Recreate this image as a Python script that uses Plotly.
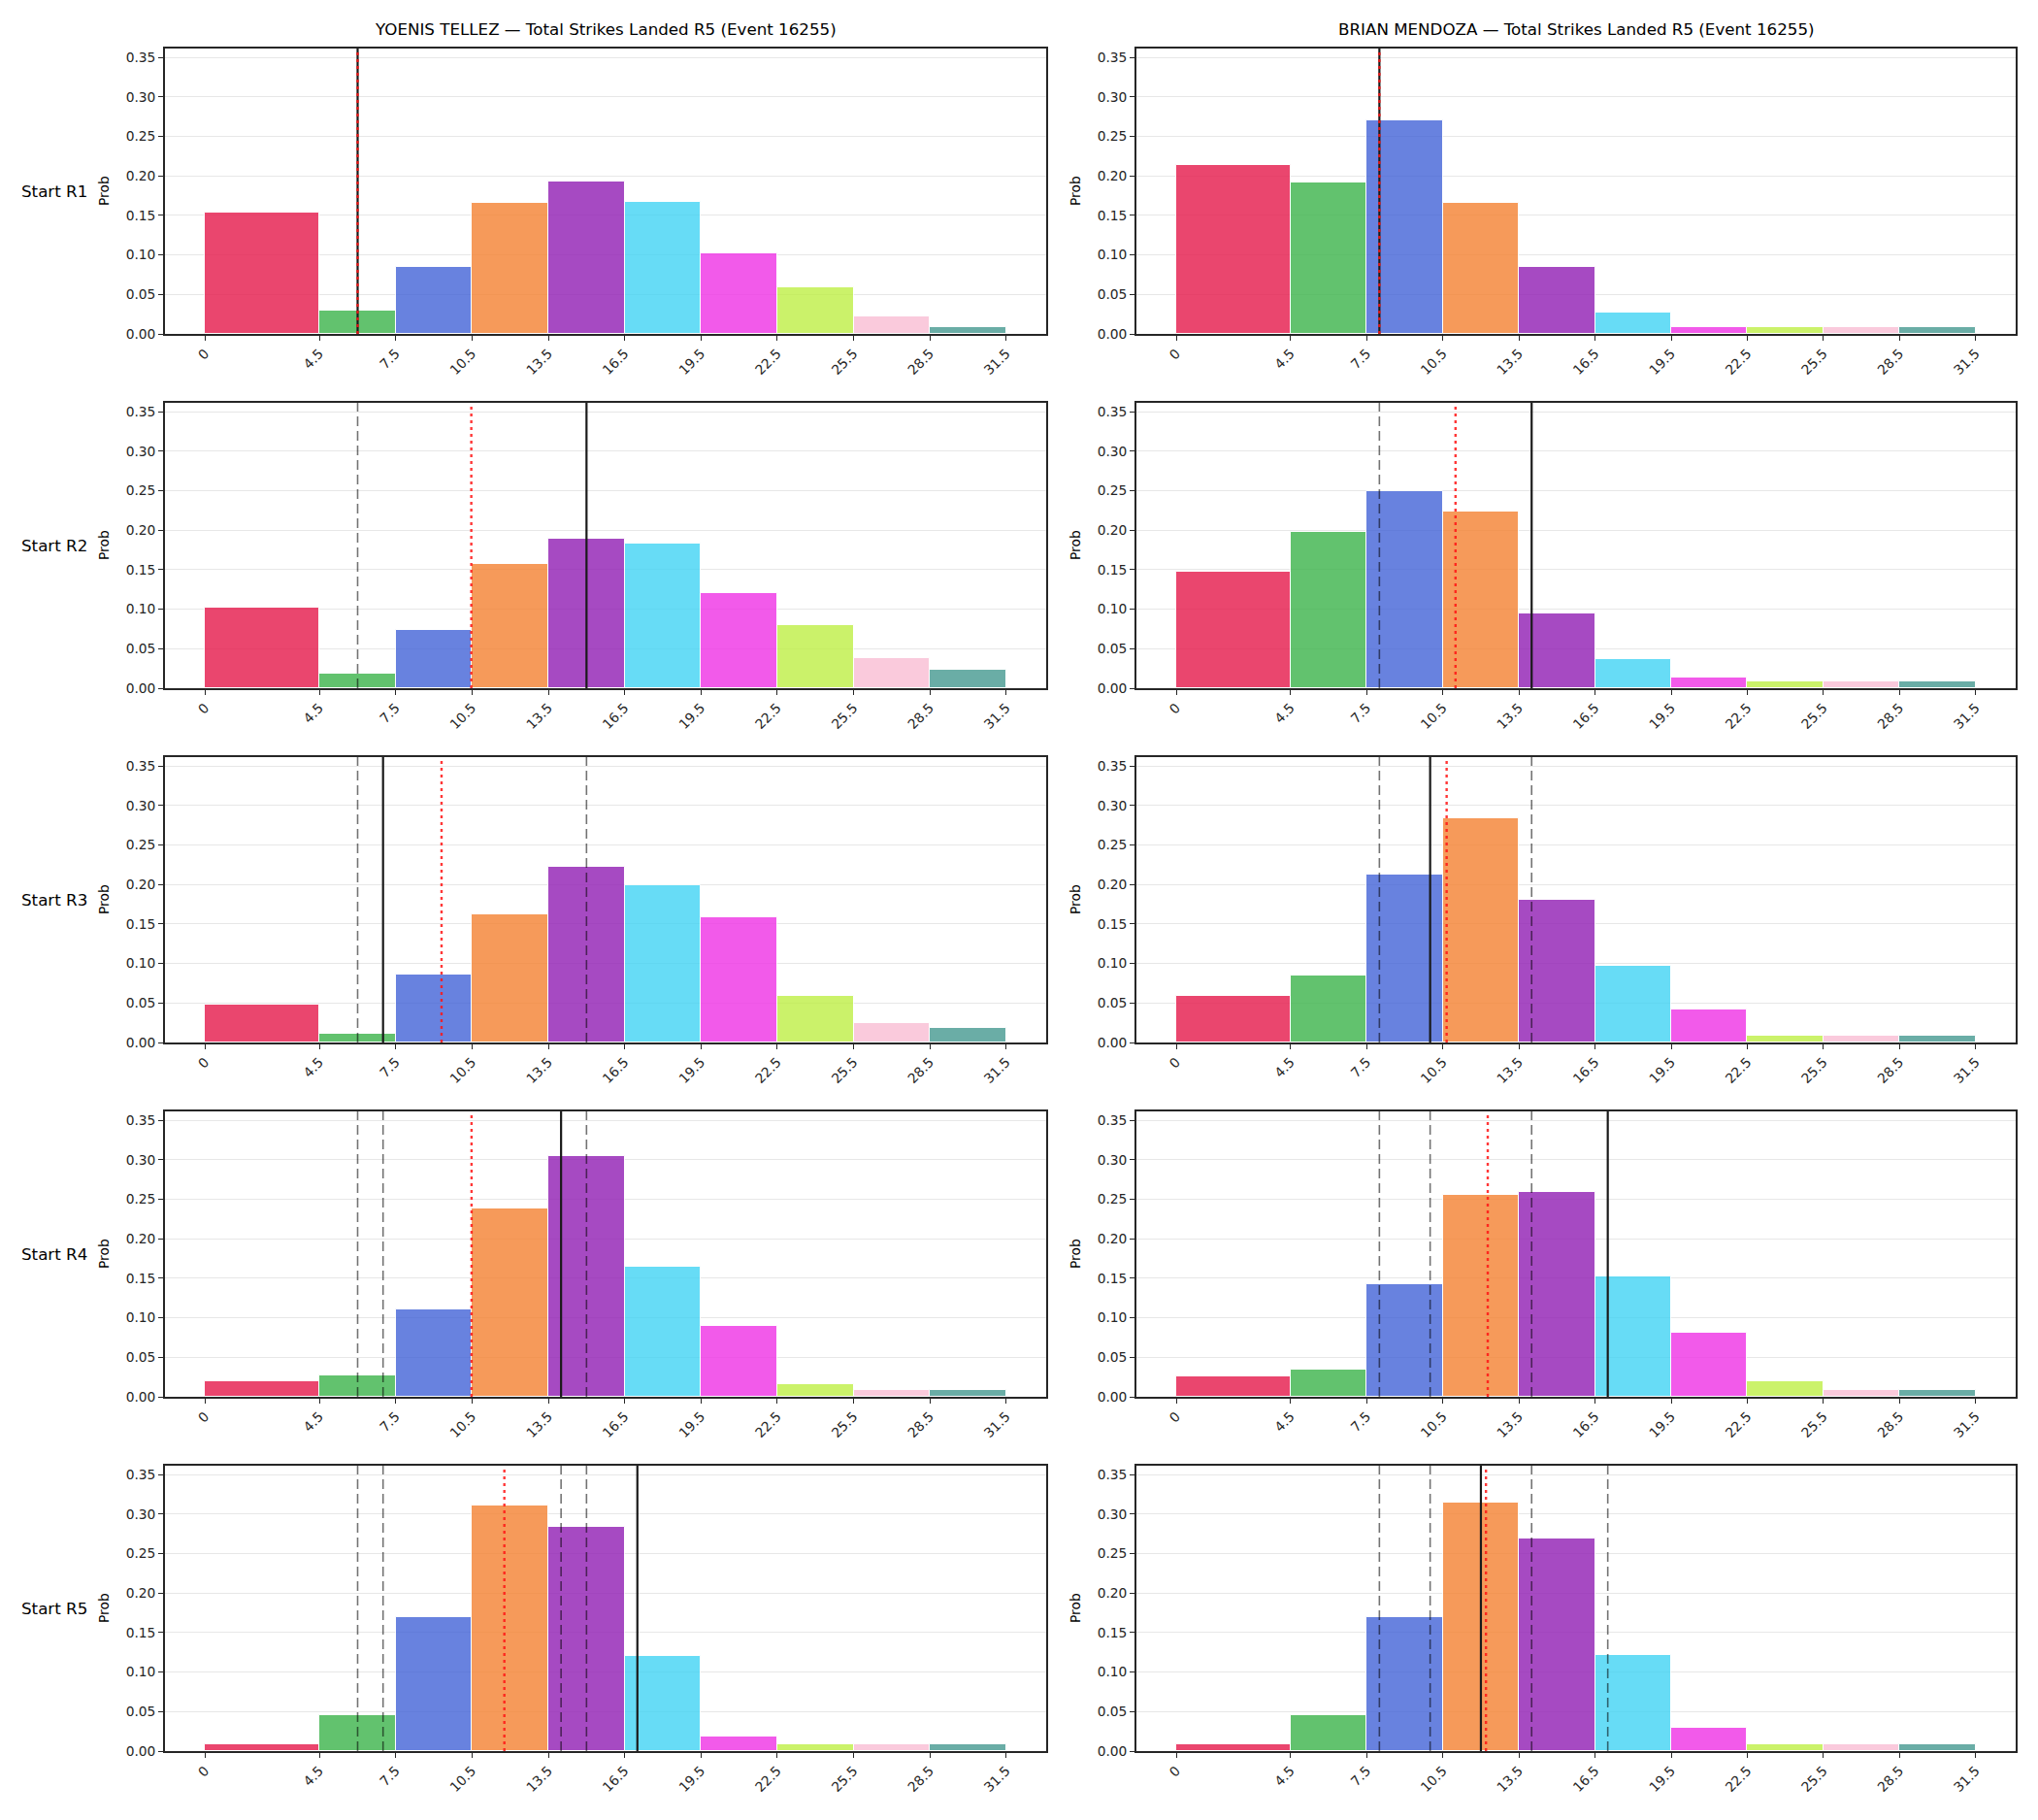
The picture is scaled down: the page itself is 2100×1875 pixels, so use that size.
import plotly.graph_objects as go

# ---------------- data ----------------
bin_edges = [0, 4.5, 7.5, 10.5, 13.5, 16.5, 19.5, 22.5, 25.5, 28.5, 31.5]
tick_labels = ["0", "4.5", "7.5", "10.5", "13.5", "16.5", "19.5", "22.5", "25.5", "28.5", "31.5"]
row_labels = ["Start R1", "Start R2", "Start R3", "Start R4", "Start R5"]
fighters = ["YOENIS TELLEZ", "BRIAN MENDOZA"]

tellez_probs = [
    [0.154, 0.029, 0.085, 0.166, 0.193, 0.167, 0.102, 0.059, 0.022, 0.0086],
    [0.102, 0.019, 0.074, 0.157, 0.189, 0.183, 0.120, 0.080, 0.038, 0.023],
    [0.048, 0.011, 0.086, 0.162, 0.222, 0.199, 0.159, 0.059, 0.025, 0.0185],
    [0.020, 0.027, 0.111, 0.238, 0.304, 0.165, 0.090, 0.016, 0.0086, 0.0086],
    [0.0082, 0.046, 0.170, 0.311, 0.284, 0.120, 0.018, 0.008, 0.008, 0.008],
]
mendoza_probs = [
    [0.214, 0.191, 0.270, 0.166, 0.085, 0.027, 0.0082, 0.0082, 0.0082, 0.0082],
    [0.147, 0.198, 0.249, 0.223, 0.095, 0.037, 0.0135, 0.0086, 0.0086, 0.0086],
    [0.059, 0.085, 0.213, 0.284, 0.181, 0.097, 0.042, 0.0086, 0.0086, 0.0086],
    [0.026, 0.0345, 0.142, 0.256, 0.259, 0.152, 0.081, 0.020, 0.0086, 0.0086],
    [0.0082, 0.046, 0.170, 0.314, 0.2695, 0.121, 0.030, 0.0082, 0.0082, 0.0082],
]
# solid black line (value at each round start), red dotted (expected)
tellez_actual = [6, 15, 7, 14, 17]
tellez_mean = [6.0, 10.47, 9.3, 10.48, 11.77]
mendoza_actual = [8, 14, 10, 17, 12]
mendoza_mean = [8.0, 11.0, 10.65, 12.27, 12.2]

bin_colors = ["#e6194b", "#3cb44b", "#4363d8", "#f58231", "#911eb4",
              "#42d4f4", "#f032e6", "#bfef45", "#fabed4", "#469990"]
y_ticks = [0.0, 0.05, 0.10, 0.15, 0.20, 0.25, 0.30, 0.35]

# ---------------- layout geometry ----------------
W, H = 2100, 1875
col_x = [(170, 1078), (1171, 2077)]
row_top0, row_step, row_h = 50, 365, 294

lefts = bin_edges[:-1]
widths = [bin_edges[i + 1] - bin_edges[i] for i in range(len(bin_edges) - 1)]

ymax = max(max(max(r) for r in tellez_probs), max(max(r) for r in mendoza_probs)) * 1.15

fig = go.Figure()
shapes = []
annotations = []
font_family = "DejaVu Sans"

all_probs = [tellez_probs, mendoza_probs]
all_actual = [tellez_actual, mendoza_actual]
all_mean = [tellez_mean, mendoza_mean]

for r in range(5):
    for c in range(2):
        idx = r * 2 + c + 1
        xa = "x" if idx == 1 else f"x{idx}"
        ya = "y" if idx == 1 else f"y{idx}"
        top = row_top0 + r * row_step
        bot = top + row_h
        x0, x1 = col_x[c]
        xdom = [x0 / W, x1 / W]
        ydom = [1 - bot / H, 1 - top / H]

        fig.add_trace(go.Bar(
            x=lefts, y=all_probs[c][r], width=widths, offset=0,
            marker=dict(color=bin_colors, opacity=0.8,
                        line=dict(color="white", width=1)),
            xaxis=xa, yaxis=ya, showlegend=False, hoverinfo="skip",
        ))

        axis_common = dict(
            showline=True, mirror=True, linecolor="#262626", linewidth=1.7,
            ticks="outside", ticklen=5, tickwidth=1.2, tickcolor="#262626",
            zeroline=False,
            tickfont=dict(family=font_family, size=13.8, color="#262626"),
        )
        fig.layout[f"xaxis{idx if idx > 1 else ''}"] = dict(
            domain=xdom, anchor=ya, range=[-1.575, 33.075],
            tickvals=bin_edges, ticktext=tick_labels, tickangle=-45,
            showgrid=False, **axis_common)
        fig.layout[f"yaxis{idx if idx > 1 else ''}"] = dict(
            domain=ydom, anchor=xa, range=[0, ymax],
            tickvals=y_ticks, tickformat=".2f",
            showgrid=True, gridcolor="#e7e7e7", gridwidth=1.1,
            **axis_common)

        xref = xa
        yref = f"{ya} domain"
        # previous rounds (dashed grey)
        for p in range(r):
            v = all_actual[c][p]
            shapes.append(dict(type="line", xref=xref, yref=yref, x0=v, x1=v, y0=0, y1=1,
                               line=dict(color="rgba(0,0,0,0.55)", width=1.6, dash="10px,5px")))
        # current (solid black)
        v = all_actual[c][r]
        shapes.append(dict(type="line", xref=xref, yref=yref, x0=v, x1=v, y0=0, y1=1,
                           line=dict(color="#1a1a1a", width=2.2)))
        # expected (red dotted)
        v = all_mean[c][r]
        shapes.append(dict(type="line", xref=xref, yref=yref, x0=v, x1=v, y0=0, y1=1,
                           line=dict(color="rgba(255,20,20,0.85)", width=2.4, dash="3px,4px")))

        # Prob label
        annotations.append(dict(
            text="Prob", textangle=-90, xref="paper", yref="paper",
            x=(x0 - 63) / W, y=1 - (top + row_h / 2) / H,
            xanchor="center", yanchor="middle", showarrow=False,
            font=dict(family=font_family, size=13.8, color="black")))

    # row label
    top = row_top0 + r * row_step
    annotations.append(dict(
        text=row_labels[r], xref="paper", yref="paper",
        x=92 / W, y=1 - (top + row_h / 2) / H,
        xanchor="right", yanchor="middle", showarrow=False,
        font=dict(family=font_family, size=16.7, color="black")))

for c in range(2):
    x0, x1 = col_x[c]
    annotations.append(dict(
        text=f"{fighters[c]} — Total Strikes Landed R5 (Event 16255)",
        xref="paper", yref="paper", x=(x0 + x1) / 2 / W, y=1 - 42 / H,
        xanchor="center", yanchor="bottom", showarrow=False,
        font=dict(family=font_family, size=16.7, color="black")))

fig.update_layout(
    width=W, height=H, margin=dict(l=0, r=0, t=0, b=0, autoexpand=False),
    paper_bgcolor="white", plot_bgcolor="white",
    shapes=shapes, annotations=annotations, bargap=0,
    font=dict(family=font_family),
)

fig.write_html("out.html")
